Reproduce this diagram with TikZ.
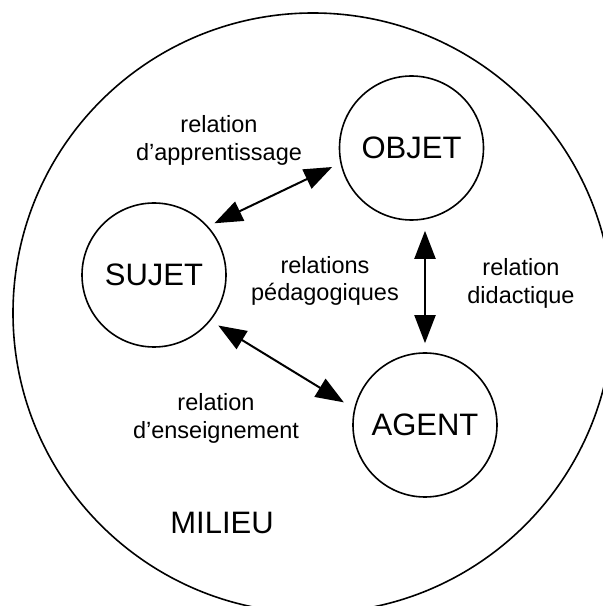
\documentclass[tikz,border=0pt]{standalone}
\usepackage{fontspec}
\setmainfont{Liberation Sans}
\usetikzlibrary{arrows.meta}
\tikzset{
  pole/.style={draw, circle, line width=1.6pt, minimum size=144pt, inner sep=0pt, font=\fontsize{31}{36}\selectfont},
  lbl/.style={align=center, font=\fontsize{23.5}{27.5}\selectfont},
  rel/.style={line width=2pt, >={Triangle[length=28pt,width=21pt]}, <->}
}
\begin{document}
\begin{tikzpicture}[x=1pt,y=1pt]
\useasboundingbox (0,0) rectangle (603,606);
\clip (0,0) rectangle (603,606);

% milieu
\draw[line width=1.6pt] (313,293) circle (300);
\node[lbl, font=\fontsize{31}{36}\selectfont] (milieu) at (222,83) {MILIEU};

% the three poles
\node[pole] (objet) at (411.5,458) {OBJET};
\node[pole] (sujet) at (154,331) {SUJET};
\node[pole] (agent) at (425,181) {AGENT};

% relations
\draw[rel, shorten <=7pt, shorten >=9pt] (sujet.42) -- (objet.192);
\draw[rel, shorten <=9pt, shorten >=12pt] (sujet.-39) -- (agent.167);
\draw[rel, shorten <=10pt, shorten >=9pt] (objet.south -| agent.north) -- (agent.north);

% labels
\node[lbl] (appr) at (219,465.5) {relation\\d’apprentissage};
\node[lbl] (peda) at (325,325) {relations\\pédagogiques};
\node[lbl] (dida) at (521,322.5) {relation\\didactique};
\node[lbl] (ens) at (216,187.5) {relation\\d’enseignement};
\end{tikzpicture}
\end{document}
